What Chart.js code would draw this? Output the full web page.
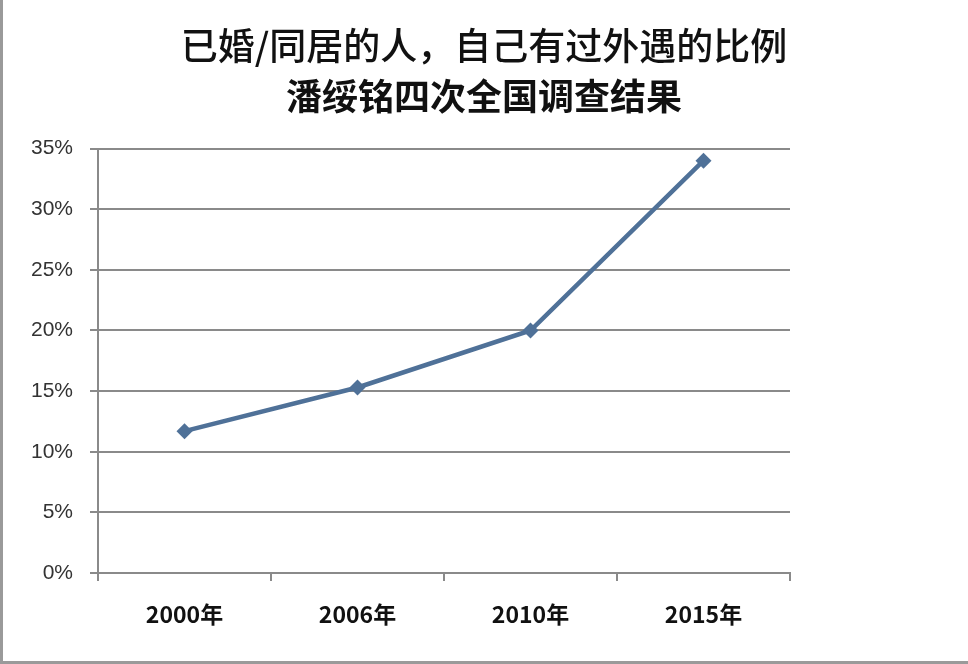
<!DOCTYPE html>
<html>
<head>
<meta charset="utf-8">
<script src="https://cdn.jsdelivr.net/npm/chart.js@4/dist/chart.umd.min.js"></script>
<style>
  html, body { margin: 0; padding: 0; background: #fff; }
  canvas { display: block; }
</style>
</head>
<body>
<canvas id="graphique" width="968" height="664"></canvas>
<script>
// données
const annees = ['2000年', '2006年', '2010年', '2015年']
const pourcentages = [11.7, 15.3, 20.0, 34.0]
const graduationsY = [0, 5, 10, 15, 20, 25, 30, 35]

const titre = '已婚/同居的人，自己有过外遇的比例'
const sousTitre = '潘绥铭四次全国调查结果'

const gris = '#8a8a8a'
const bleu = '#4f7198'

// fond blanc + cadre gris gauche/bas comme sur la capture
const cadre = {
  id: 'cadre',
  beforeDraw(chart) {
    const ctx = chart.ctx
    ctx.save()
    ctx.fillStyle = '#fff'
    ctx.fillRect(0, 0, chart.width, chart.height)
    ctx.restore()
  },
  afterDraw(chart) {
    const ctx = chart.ctx
    ctx.save()
    ctx.strokeStyle = '#9a9a9a'
    ctx.lineWidth = 3
    ctx.beginPath()
    ctx.moveTo(1.5, 0)
    ctx.lineTo(1.5, chart.height - 1.5)
    ctx.lineTo(chart.width, chart.height - 1.5)
    ctx.stroke()
    ctx.restore()
  }
}

new Chart(document.getElementById('graphique'), {
  type: 'line',
  data: {
    labels: annees,
    datasets: [{
      data: pourcentages,
      borderColor: bleu,
      backgroundColor: bleu,
      borderWidth: 4.5,
      pointStyle: 'rectRot',
      pointRadius: 8,
      pointBorderWidth: 0,
      tension: 0,
      fill: false
    }]
  },
  options: {
    responsive: false,
    animation: false,
    layout: { padding: 0 },
    plugins: {
      legend: { display: false },
      tooltip: { enabled: false },
      title: {
        display: true,
        text: titre,
        color: '#111',
        font: { family: '"Noto Sans CJK SC"', size: 37, weight: 500, lineHeight: 1.2 },
        padding: { top: 24, bottom: 6 }
      },
      subtitle: {
        display: true,
        text: sousTitre,
        color: '#111',
        font: { family: '"Noto Sans CJK SC"', size: 36, weight: 'bold', lineHeight: 1.2 },
        padding: { top: 0, bottom: 31 }
      }
    },
    scales: {
      x: {
        type: 'category',
        offset: true,
        grid: { offset: true, drawOnChartArea: false, drawTicks: true, tickLength: 8, color: gris, lineWidth: 2 },
        border: { color: gris, width: 2 },
        ticks: {
          color: '#111',
          padding: 19,
          maxRotation: 0,
          font: { family: '"Noto Sans CJK SC"', size: 23, weight: 'bold' }
        },
        afterFit(scale) { scale.height = 91 }
      },
      y: {
        min: 0,
        max: 35,
        afterBuildTicks(scale) { scale.ticks = graduationsY.map(v => ({ value: v })) },
        grid: { color: gris, lineWidth: 2, tickLength: 8 },
        border: { color: gris, width: 2 },
        ticks: {
          color: '#333',
          padding: 17,
          font: { family: '"Liberation Sans", Arial', size: 21 },
          callback: v => v + '%'
        },
        afterFit(scale) { scale.width = 98 }
      },
      // marge vide à droite du graphique, pour garder le titre centré sur la page
      marge: {
        type: 'linear',
        position: 'right',
        display: true,
        grid: { display: false, drawOnChartArea: false },
        border: { display: false },
        ticks: { display: false },
        afterFit(scale) { scale.width = 178 }
      }
    }
  },
  plugins: [cadre]
})
</script>
</body>
</html>
